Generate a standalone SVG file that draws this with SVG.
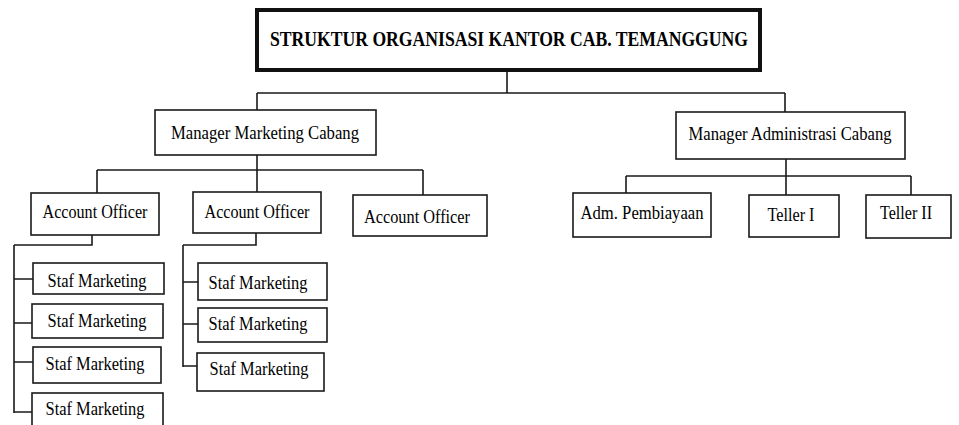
<svg xmlns="http://www.w3.org/2000/svg" width="959" height="425" viewBox="0 0 959 425">
<style>
.b{fill:#fff;stroke:#1a1a1a;stroke-width:1.6}
.t{font-family:"Liberation Serif","Times New Roman",serif;font-size:19.5px;fill:#000;text-anchor:middle}
.c{fill:none;stroke:#1a1a1a;stroke-width:1.6}
</style>
<rect width="959" height="425" fill="#fff"/>
<g id="connectors">
<path class="c" d="M507 72V93M257 93H785M257 93V110M785 93V112"/>
<path class="c" d="M257 155V170M97 170H423M97 170V193M257 170V192M423 170V195"/>
<path class="c" d="M92 235V245H14M14 245V413M14 279H33M14 323H32M14 362H33M14 412H32"/>
<path class="c" d="M256 233V245H183M183 245V367M183 282H198M183 324H198M183 366H197"/>
<path class="c" d="M786 159V195M626 176H911M626 176V193M911 176V197"/>
</g>
<g id="title">
<rect x="257" y="10" width="503" height="60" fill="#fff" stroke="#111" stroke-width="4"/>
<text class="t" x="509" y="46" style="font-size:20px;font-weight:bold" textLength="478" lengthAdjust="spacingAndGlyphs">STRUKTUR ORGANISASI KANTOR CAB. TEMANGGUNG</text>
</g>
<g id="mgr-marketing">
<rect class="b" x="155" y="110" width="221" height="45"/>
<text class="t" x="265" y="139" textLength="188" lengthAdjust="spacingAndGlyphs">Manager Marketing Cabang</text>
</g>
<g id="mgr-admin">
<rect class="b" x="676" y="112" width="229" height="47"/>
<text class="t" x="790" y="140" textLength="203" lengthAdjust="spacingAndGlyphs">Manager Administrasi Cabang</text>
</g>
<g id="ao1">
<rect class="b" x="31" y="193" width="128" height="42"/>
<text class="t" x="95" y="218" textLength="105" lengthAdjust="spacingAndGlyphs">Account Officer</text>
</g>
<g id="ao2">
<rect class="b" x="193" y="192" width="128" height="41"/>
<text class="t" x="257" y="218" textLength="105" lengthAdjust="spacingAndGlyphs">Account Officer</text>
</g>
<g id="ao3">
<rect class="b" x="353" y="195" width="134" height="41"/>
<text class="t" x="417" y="223" textLength="106" lengthAdjust="spacingAndGlyphs">Account Officer</text>
</g>
<g id="adm">
<rect class="b" x="573" y="193" width="138" height="44"/>
<text class="t" x="642" y="219" textLength="123" lengthAdjust="spacingAndGlyphs">Adm. Pembiayaan</text>
</g>
<g id="teller1">
<rect class="b" x="749" y="195" width="90" height="42"/>
<text class="t" x="791" y="221" textLength="47" lengthAdjust="spacingAndGlyphs">Teller I</text>
</g>
<g id="teller2">
<rect class="b" x="866" y="195" width="85" height="43"/>
<text class="t" x="906" y="219" textLength="52" lengthAdjust="spacingAndGlyphs">Teller II</text>
</g>
<g id="staf1">
<rect class="b" x="33" y="263" width="131" height="31"/>
<text class="t" x="97" y="287" textLength="99" lengthAdjust="spacingAndGlyphs">Staf Marketing</text>
</g>
<g id="staf2">
<rect class="b" x="32" y="304" width="131" height="34"/>
<text class="t" x="97" y="327" textLength="99" lengthAdjust="spacingAndGlyphs">Staf Marketing</text>
</g>
<g id="staf3">
<rect class="b" x="33" y="347" width="128" height="36"/>
<text class="t" x="95" y="370" textLength="99" lengthAdjust="spacingAndGlyphs">Staf Marketing</text>
</g>
<g id="staf4">
<rect class="b" x="32" y="393" width="131" height="40"/>
<text class="t" x="95" y="415" textLength="99" lengthAdjust="spacingAndGlyphs">Staf Marketing</text>
</g>
<g id="staf5">
<rect class="b" x="198" y="263" width="129" height="37"/>
<text class="t" x="258" y="289" textLength="99" lengthAdjust="spacingAndGlyphs">Staf Marketing</text>
</g>
<g id="staf6">
<rect class="b" x="198" y="308" width="129" height="34"/>
<text class="t" x="258" y="330" textLength="99" lengthAdjust="spacingAndGlyphs">Staf Marketing</text>
</g>
<g id="staf7">
<rect class="b" x="197" y="353" width="127" height="38"/>
<text class="t" x="259" y="375" textLength="99" lengthAdjust="spacingAndGlyphs">Staf Marketing</text>
</g>
</svg>
